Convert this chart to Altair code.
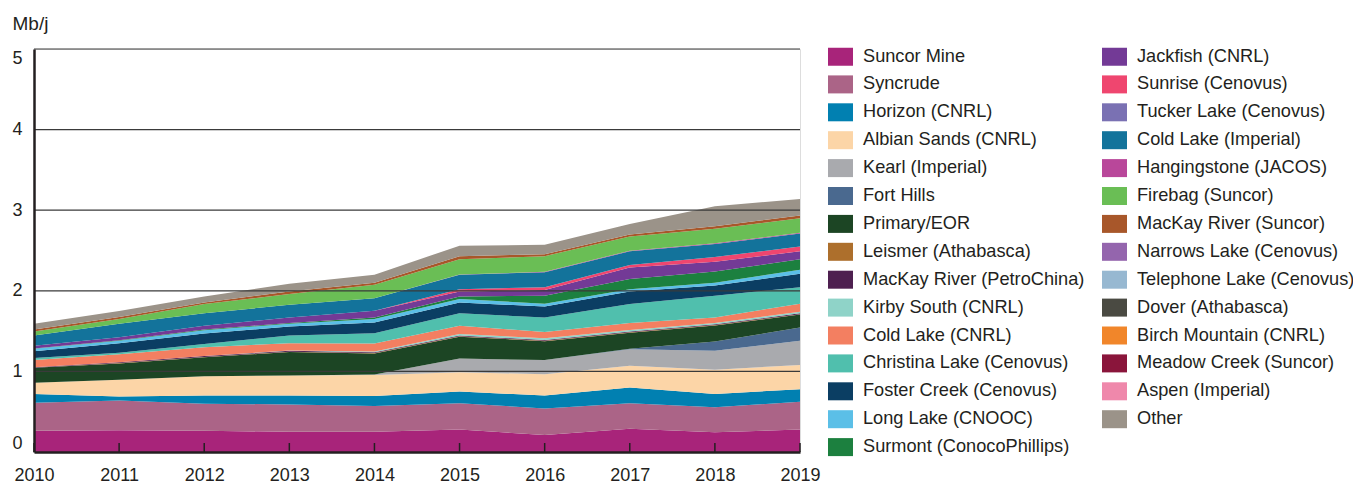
import altair as alt
import pandas as pd

years = [2010, 2011, 2012, 2013, 2014, 2015, 2016, 2017, 2018, 2019]

suncor_mine = [0.265, 0.27, 0.265, 0.25, 0.25, 0.28, 0.21, 0.29, 0.245, 0.28]
syncrude = [0.345, 0.37, 0.335, 0.34, 0.32, 0.325, 0.33, 0.315, 0.31, 0.345]
horizon = [0.11, 0.05, 0.10, 0.11, 0.125, 0.145, 0.16, 0.195, 0.165, 0.155]
albian_sands = [0.14, 0.205, 0.24, 0.25, 0.26, 0.24, 0.265, 0.27, 0.30, 0.30]
kearl = [0, 0, 0, 0, 0.005, 0.17, 0.175, 0.205, 0.235, 0.30]
fort_hills = [0, 0, 0, 0, 0, 0, 0, 0.005, 0.115, 0.165]
primary_eor = [0.185, 0.204, 0.235, 0.29, 0.262, 0.27, 0.235, 0.20, 0.20, 0.16]
leismer = [0, 0.005, 0.005, 0.005, 0.005, 0.005, 0.005, 0.005, 0.005, 0.005]
mackay_petrochina = [0.005, 0.01, 0.01, 0.01, 0.01, 0.01, 0.01, 0.01, 0.01, 0.01]
kirby_south = [0, 0, 0, 0.005, 0.01, 0.02, 0.02, 0.02, 0.015, 0.02]
cold_lake_cnrl = [0.09, 0.10, 0.11, 0.09, 0.10, 0.10, 0.08, 0.085, 0.07, 0.10]
christina_lake = [0.025, 0.016, 0.04, 0.095, 0.126, 0.155, 0.18, 0.235, 0.27, 0.205]
foster_creek = [0.085, 0.12, 0.13, 0.111, 0.133, 0.135, 0.135, 0.155, 0.125, 0.165]
long_lake = [0.03, 0.03, 0.04, 0.034, 0.043, 0.042, 0.035, 0.03, 0.035, 0.05]
surmont = [0.005, 0.005, 0.01, 0.01, 0.02, 0.033, 0.10, 0.125, 0.14, 0.13]
jackfish = [0.032, 0.04, 0.045, 0.07, 0.085, 0.06, 0.07, 0.145, 0.12, 0.10]
sunrise = [0, 0, 0, 0, 0, 0.03, 0.035, 0.03, 0.06, 0.06]
tucker_lake = [0, 0, 0, 0, 0, 0, 0, 0, 0, 0]
cold_lake_imperial = [0.128, 0.165, 0.155, 0.156, 0.155, 0.18, 0.185, 0.17, 0.16, 0.16]
hangingstone = [0, 0, 0, 0, 0, 0.003, 0.005, 0.008, 0.01, 0.01]
firebag = [0.05, 0.06, 0.115, 0.134, 0.165, 0.187, 0.195, 0.177, 0.18, 0.18]
mackay_suncor = [0.025, 0.025, 0.02, 0.03, 0.025, 0.04, 0.025, 0.025, 0.03, 0.035]
narrows_lake = [0, 0, 0, 0, 0, 0, 0, 0, 0, 0]
telephone_lake = [0, 0, 0, 0, 0, 0, 0, 0, 0, 0]
dover = [0, 0, 0, 0, 0, 0, 0, 0, 0, 0]
birch_mountain = [0, 0, 0, 0, 0, 0, 0, 0, 0, 0]
meadow_creek = [0, 0, 0, 0, 0, 0, 0, 0, 0, 0]
aspen = [0, 0, 0, 0, 0, 0, 0, 0, 0, 0]
other = [0.07, 0.075, 0.075, 0.097, 0.10, 0.13, 0.115, 0.13, 0.25, 0.205]

series_names = [
    "Suncor Mine", "Syncrude", "Horizon (CNRL)", "Albian Sands (CNRL)",
    "Kearl (Imperial)", "Fort Hills", "Primary/EOR", "Leismer (Athabasca)",
    "MacKay River (PetroChina)", "Kirby South (CNRL)", "Cold Lake (CNRL)",
    "Christina Lake (Cenovus)", "Foster Creek (Cenovus)", "Long Lake (CNOOC)",
    "Surmont (ConocoPhillips)", "Jackfish (CNRL)", "Sunrise (Cenovus)",
    "Tucker Lake (Cenovus)", "Cold Lake (Imperial)", "Hangingstone (JACOS)",
    "Firebag (Suncor)", "MacKay River (Suncor)", "Narrows Lake (Cenovus)",
    "Telephone Lake (Cenovus)", "Dover (Athabasca)", "Birch Mountain (CNRL)",
    "Meadow Creek (Suncor)", "Aspen (Imperial)", "Other",
]
series_values = [
    suncor_mine, syncrude, horizon, albian_sands, kearl, fort_hills,
    primary_eor, leismer, mackay_petrochina, kirby_south, cold_lake_cnrl,
    christina_lake, foster_creek, long_lake, surmont, jackfish, sunrise,
    tucker_lake, cold_lake_imperial, hangingstone, firebag, mackay_suncor,
    narrows_lake, telephone_lake, dover, birch_mountain, meadow_creek, aspen,
    other,
]
series_colors = [
    "#a8247a", "#ab6487", "#0180b1", "#fcd5a7", "#a9aaae", "#4a698f",
    "#1c4524", "#ad6f2c", "#4e2050", "#8fd3c8", "#f37f61", "#50bfad",
    "#0b3e63", "#5bbfe7", "#1c803f", "#733a96", "#ef466f", "#7a71b3",
    "#13739b", "#b9479a", "#6abe55", "#a8572a", "#9465ad", "#97b8d1",
    "#4a4a42", "#f1862a", "#8a153b", "#ef88ab", "#9b9389",
]
grid_values = [1, 2, 3, 4, 5]
y_label_values = [0, 1, 2, 3, 4, 5]

rows = []
for idx, (name, vals) in enumerate(zip(series_names, series_values)):
    for yr, v in zip(years, vals):
        rows.append({"year": yr, "series": name, "value": v, "idx": idx})
df = pd.DataFrame(rows)

W, H = 766, 403
FONT = "Liberation Sans"
TXT = "#231f20"

xscale = alt.Scale(domain=[2010, 2019], nice=False)
yscale = alt.Scale(domain=[0, 5], nice=False)

x_axis = alt.Axis(values=years, format="d", title=None, grid=False,
                  ticks=False, domainColor=TXT, domainWidth=2.5,
                  labelFontSize=18, labelColor=TXT, labelFont=FONT,
                  labelFlush=False, labelPadding=14, zindex=1)
y_axis = alt.Axis(values=y_label_values, grid=False, ticks=False,
                  title="Mb/j", titleAngle=0, titleAlign="left",
                  titleBaseline="middle", titleX=-22, titleY=-26,
                  titleFontSize=19, titleFontWeight="normal",
                  titleFont=FONT, titleColor=TXT,
                  labelFontSize=18, labelColor=TXT, labelFont=FONT,
                  labelFlush=True, labelPadding=12,
                  domainColor=TXT, domainWidth=2.5, zindex=1)

area = alt.Chart(df).mark_area(interpolate="linear", opacity=1).encode(
    x=alt.X("year:Q", scale=xscale, axis=x_axis),
    y=alt.Y("value:Q", stack="zero", scale=yscale, axis=y_axis),
    color=alt.Color("series:N",
                    scale=alt.Scale(domain=series_names, range=series_colors),
                    legend=alt.Legend(
                        title=None, orient="none", legendX=794, legendY=-5,
                        columns=2, direction="vertical",
                        symbolType="M-1,-0.72L1,-0.72L1,0.72L-1,0.72Z",
                        symbolSize=625, symbolStrokeWidth=0, symbolOpacity=1,
                        labelFontSize=18.2, labelFont=FONT, labelColor=TXT,
                        labelLimit=400, labelOffset=10, rowPadding=5.9,
                        columnPadding=17)),
    order=alt.Order("idx:Q", sort="ascending"),
)

gdf = pd.DataFrame({"value": grid_values})
grid = alt.Chart(gdf).mark_rule(color="#3a3a3a", strokeWidth=1.2).encode(
    y=alt.Y("value:Q", scale=yscale, axis=y_axis),
    x=alt.value(0),
    x2=alt.value(W),
)

tdf = pd.DataFrame({"year": years})
ticks = alt.Chart(tdf).mark_rule(color=TXT, strokeWidth=1.5).encode(
    x=alt.X("year:Q", scale=xscale, axis=x_axis),
    y=alt.value(H),
    y2=alt.value(H - 9),
)

chart = alt.layer(area, grid, ticks).properties(
    width=W, height=H,
    autosize=alt.AutoSizeParams(type="none"),
    padding={"left": 26, "top": 41, "right": 553, "bottom": 40},
).configure_view(stroke=None).configure(font=FONT)

chart.save("out.html", embed_options={"renderer": "svg", "actions": False})
